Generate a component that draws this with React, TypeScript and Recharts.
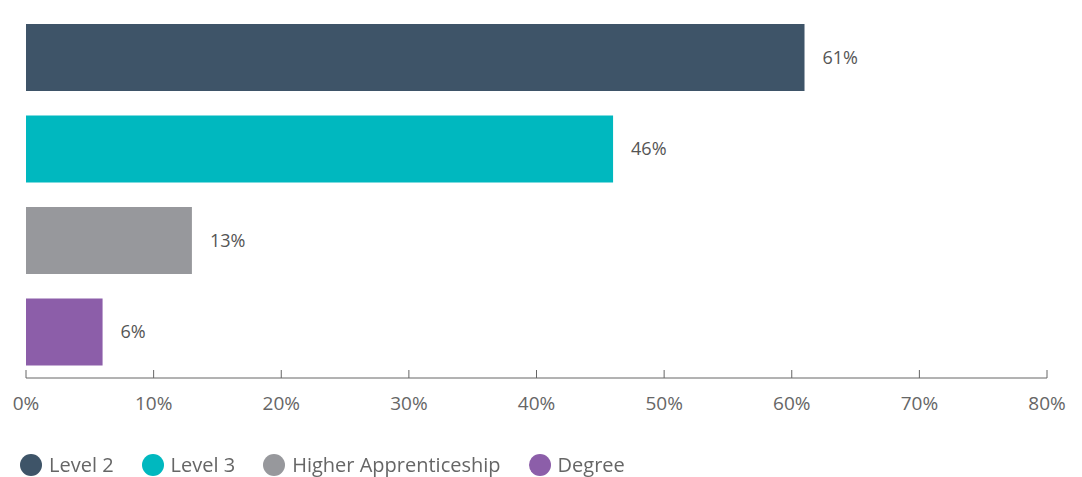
import { BarChart, Bar, XAxis, YAxis, Cell, LabelList, Legend } from "recharts";

const categories = ["Level 2", "Level 3", "Higher Apprenticeship", "Degree"];
const shares = [61, 46, 13, 6];
const colors = ["#3e5468", "#00b8bf", "#97989c", "#8c5ea9"];
const xTicks = [0, 10, 20, 30, 40, 50, 60, 70, 80];

const data = categories.map((name, i) => ({ name, value: shares[i] }));

const FONT = "'Open Sans', Lato, sans-serif";
const TEXT = "#666";

function TickWithMark(props: any) {
  const { x, y, payload } = props;
  return (
    <g>
      <line x1={x} x2={x} y1={y - 8} y2={y} stroke="#666" strokeWidth={1} />
      <text x={x} y={y + 32} textAnchor="middle" fill={TEXT} fontSize={19} fontFamily={FONT}>
        {`${payload.value}%`}
      </text>
    </g>
  );
}

function LegendBox() {
  return (
    <div style={{ height: 40, display: "flex", alignItems: "flex-start", fontFamily: FONT }}>
      {categories.map((c, i) => (
        <div key={c} style={{ display: "flex", alignItems: "center", marginTop: 17, marginRight: 28 }}>
          <span
            style={{
              width: 22,
              height: 22,
              borderRadius: "50%",
              background: colors[i],
              display: "inline-block",
              marginRight: 7,
            }}
          />
          <span style={{ color: TEXT, fontSize: 20, lineHeight: "22px" }}>{c}</span>
        </div>
      ))}
    </div>
  );
}

export default function App() {
  return (
    <div style={{ position: "fixed", top: 0, left: 0, width: 1082, height: 477, background: "#fff" }}>
      <BarChart
        width={1082}
        height={477}
        data={data}
        layout="vertical"
        margin={{ top: 12, right: 35, left: 26, bottom: 0 }}
      >
        <XAxis
          type="number"
          domain={[0, 80]}
          ticks={xTicks}
          interval={0}
          height={59}
          tickSize={0}
          tickMargin={0}
          tickLine={false}
          axisLine={{ stroke: "#666", strokeWidth: 1 }}
          tick={<TickWithMark />}
        />
        <YAxis
          type="category"
          dataKey="name"
          width={0}
          tick={false}
          tickLine={false}
          axisLine={{ stroke: "#666", strokeWidth: 1.5 }}
        />
        <Legend
          verticalAlign="bottom"
          align="left"
          content={<LegendBox />}
          wrapperStyle={{ left: 20, height: 40 }}
        />
        <Bar dataKey="value" barSize={67} isAnimationActive={false}>
          {data.map((d, i) => (
            <Cell key={d.name} fill={colors[i]} />
          ))}
          <LabelList
            dataKey="value"
            position="right"
            offset={18}
            formatter={(v: any) => `${v}%`}
            fill="#555"
            fontSize={18}
            fontFamily={FONT}
          />
        </Bar>
      </BarChart>
    </div>
  );
}
